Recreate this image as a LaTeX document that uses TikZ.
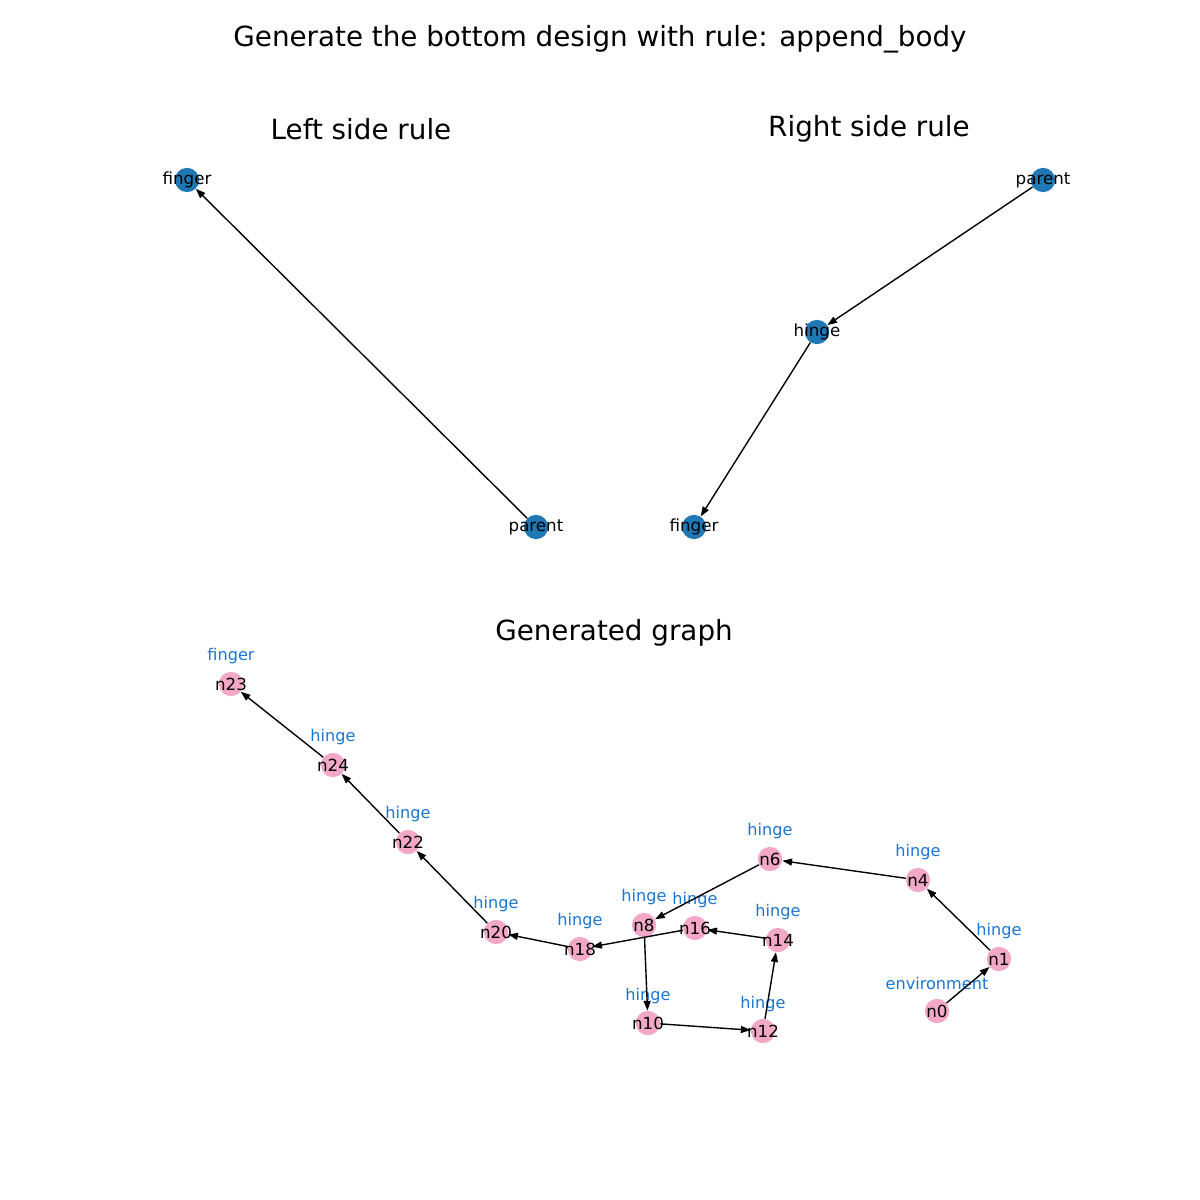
\documentclass[tikz,border=0pt]{standalone}
\usepackage{fontspec}
\setmainfont{DejaVu Sans}
\usetikzlibrary{arrows.meta}
\definecolor{nblue}{HTML}{1F77B4}
\definecolor{npink}{HTML}{F2A8C6}
\definecolor{lblue}{HTML}{1976D2}
\newcommand{\zw}[1]{\makebox[0pt]{#1}}
\tikzset{
  bnode/.style={circle,fill=nblue,inner sep=0pt,minimum size=17.5pt,font=\fontsize{12}{14}\selectfont,text=black},
  pnode/.style={circle,fill=npink,inner sep=0pt,minimum size=17.5pt,font=\fontsize{12}{14}\selectfont,text=black},
  tlabel/.style={text=lblue,font=\fontsize{11.6}{13}\selectfont,inner sep=0pt},
  ttl/.style={font=\fontsize{20}{24}\selectfont,inner sep=0pt},
  edge/.style={draw=black,line width=1pt,-{Triangle[length=7pt,width=5pt]}}
}
\begin{document}
\begin{tikzpicture}[x=0.72pt,y=-0.72pt]
\useasboundingbox (0,0) rectangle (1200,1200);
% titles
\node[ttl] (t0) at (600,39) {Generate the bottom design with rule: append\_body};
\node[ttl] (t1) at (361,129) {Left side rule};
\node[ttl] (t2) at (869,129) {Right side rule};
\node[ttl] (t3) at (614,633) {Generated graph};
% left rule
\node[bnode] (lf) at (187,180) {\zw{finger}};
\node[bnode] (lp) at (536,527) {\zw{parent}};
\draw[edge] (lp) -- (lf);
% right rule
\node[bnode] (rp) at (1043,180) {\zw{parent}};
\node[bnode] (rh) at (817,332) {\zw{hinge}};
\node[bnode] (rf) at (694,527) {\zw{finger}};
\draw[edge] (rp) -- (rh);
\draw[edge] (rh) -- (rf);
% generated graph
\node[pnode] (n23) at (231,684) {\zw{n23}};
\node[pnode] (n24) at (333,765) {\zw{n24}};
\node[pnode] (n22) at (408,842) {\zw{n22}};
\node[pnode] (n20) at (496,932) {\zw{n20}};
\node[pnode] (n18) at (580,949) {\zw{n18}};
\node[pnode] (n8) at (644,925) {\zw{n8}};
\node[pnode] (n16) at (695,928) {\zw{n16}};
\node[pnode] (n14) at (778,940) {\zw{n14}};
\node[pnode] (n10) at (648,1023) {\zw{n10}};
\node[pnode] (n12) at (763,1031) {\zw{n12}};
\node[pnode] (n6) at (770,859) {\zw{n6}};
\node[pnode] (n4) at (918,880) {\zw{n4}};
\node[pnode] (n1) at (999,959) {\zw{n1}};
\node[pnode] (n0) at (937,1011) {\zw{n0}};
% labels
\node[tlabel] (l23) at (231,656) {finger};
\node[tlabel] (l24) at (333,737) {hinge};
\node[tlabel] (l22) at (408,814) {hinge};
\node[tlabel] (l20) at (496,904) {hinge};
\node[tlabel] (l18) at (580,921) {hinge};
\node[tlabel] (l8) at (644,897) {hinge};
\node[tlabel] (l16) at (695,900) {hinge};
\node[tlabel] (l14) at (778,912) {hinge};
\node[tlabel] (l10) at (648,996) {hinge};
\node[tlabel] (l12) at (763,1004) {hinge};
\node[tlabel] (l6) at (770,831) {hinge};
\node[tlabel] (l4) at (918,852) {hinge};
\node[tlabel] (l1) at (999,931) {hinge};
\node[tlabel] (l0) at (937,983) {environment};
% edges
\draw[edge] (n0) -- (n1);
\draw[edge] (n1) -- (n4);
\draw[edge] (n4) -- (n6);
\draw[edge] (n6) -- (n8);
\draw[edge] (n8) -- (n10);
\draw[edge] (n10) -- (n12);
\draw[edge] (n12) -- (n14);
\draw[edge] (n14) -- (n16);
\draw[edge] (n16) -- (n18);
\draw[edge] (n18) -- (n20);
\draw[edge] (n20) -- (n22);
\draw[edge] (n22) -- (n24);
\draw[edge] (n24) -- (n23);
\end{tikzpicture}
\end{document}
